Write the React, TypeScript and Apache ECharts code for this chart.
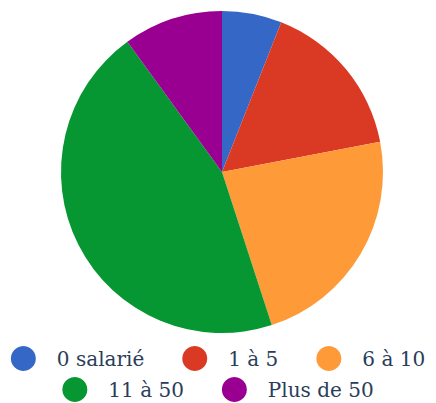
import React, { useEffect, useRef } from "react";
import * as echarts from "echarts";

const categories = ["0 salarié", "1 à 5", "6 à 10", "11 à 50", "Plus de 50"];
const values = [6, 16, 23, 45, 10];
const colors = ["#3568c6", "#da3923", "#ff9a38", "#069632", "#990091"];

export default function App() {
  const ref = useRef<HTMLDivElement>(null);
  useEffect(() => {
    const chart = echarts.init(ref.current!, null, { renderer: "svg" });
    const textStyle = {
      fontFamily: "'DejaVu Serif', 'Liberation Serif', serif",
      fontSize: 20,
      lineHeight: 22,
      color: "#2a3d5a",
      padding: [0, 0, 0, 16],
    };
    const common = {
      left: "center",
      icon: "circle",
      itemWidth: 25,
      itemHeight: 25,
      itemGap: 38,
      padding: 0,
      textStyle,
    };
    chart.setOption({
      animation: false,
      color: colors,
      legend: [
        { ...common, data: categories.slice(0, 3), top: 346 },
        { ...common, data: categories.slice(3), top: 377 },
      ],
      series: [
        {
          type: "pie",
          center: [222, 172],
          radius: 161,
          startAngle: 90,
          clockwise: true,
          label: { show: false },
          labelLine: { show: false },
          itemStyle: { borderWidth: 0 },
          emphasis: { disabled: true },
          data: categories.map((name, i) => ({ name, value: values[i] })),
        },
      ],
    });
    return () => chart.dispose();
  }, []);
  return (
    <div
      ref={ref}
      style={{ position: "absolute", left: 0, top: 0, width: 436, height: 403, background: "#fff" }}
    />
  );
}
